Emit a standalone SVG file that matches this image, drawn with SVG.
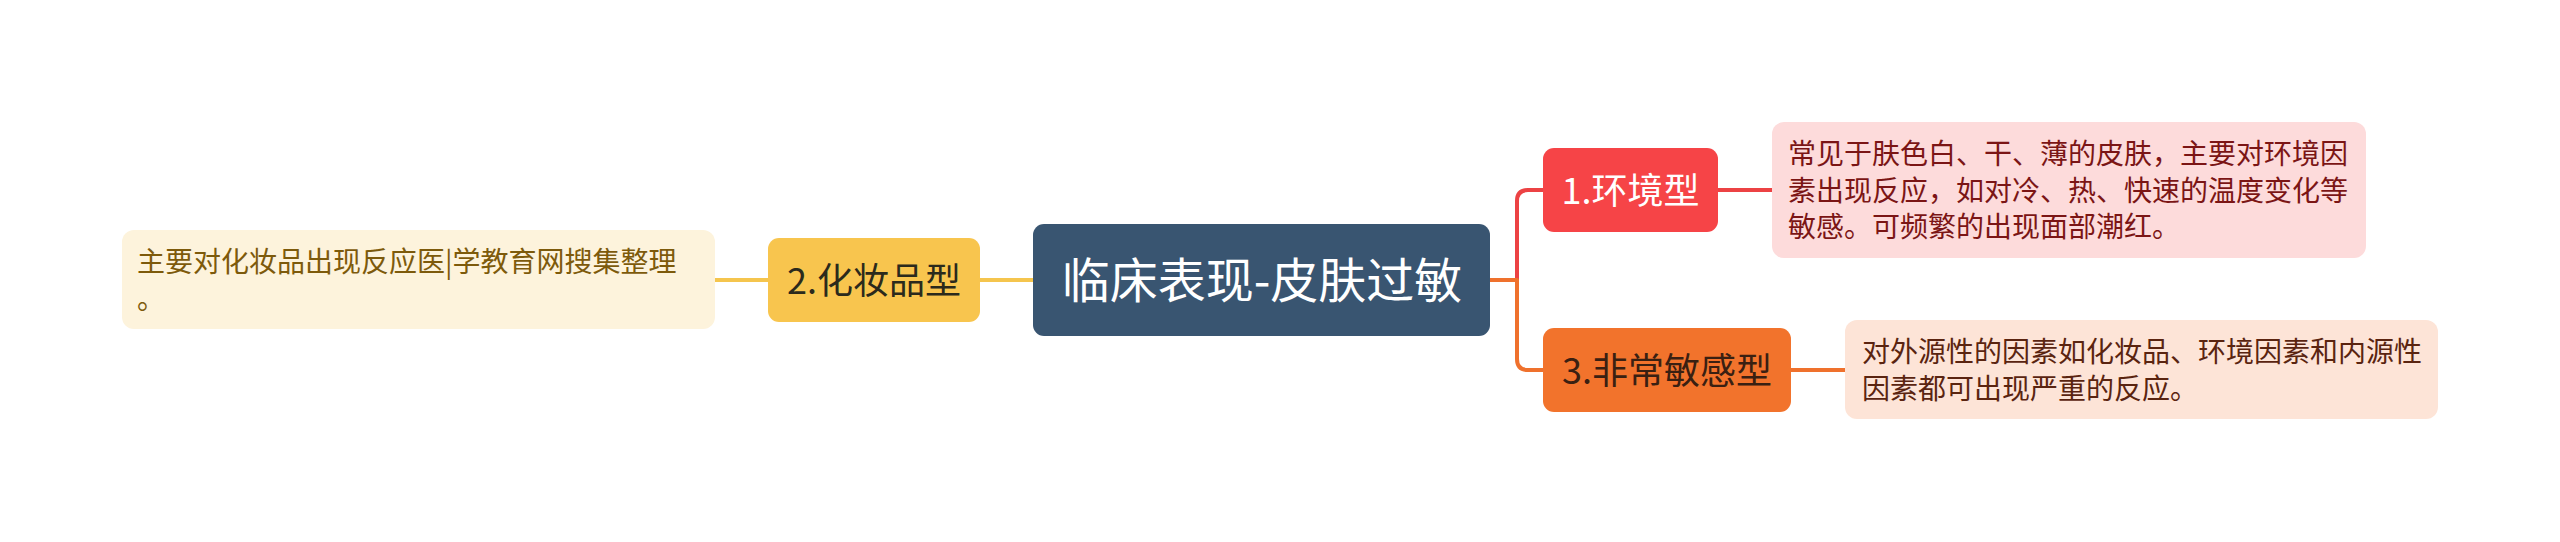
<svg xmlns="http://www.w3.org/2000/svg" width="2560" height="542" viewBox="0 0 2560 542">
<style>
text{font-family:"Noto Sans CJK SC","Noto Sans",sans-serif;}
.conn{fill:none;stroke-width:4;stroke-linecap:round;stroke-linejoin:round;}
.t48{font-size:48px;fill:#ffffff;text-anchor:middle;}
.t36{font-size:36px;text-anchor:middle;}
.t28{font-size:28px;}
</style>
<rect x="0" y="0" width="2560" height="542" fill="#ffffff"/>
<g id="connectors">
  <path class="conn" stroke="#f5c54e" d="M715 280 H768"/>
  <path class="conn" stroke="#f5c54e" d="M980 280 H1033"/>
  <path class="conn" stroke="#ec4244" d="M1517 280 V201 Q1517 190 1528 190 H1543"/>
  <path class="conn" stroke="#ef712d" d="M1490 280 H1517 V359 Q1517 370 1528 370 H1543"/>
  <path class="conn" stroke="#ec4244" d="M1718 190 H1772"/>
  <path class="conn" stroke="#ef712d" d="M1791 370 H1845"/>
</g>
<g id="central">
  <rect x="1033" y="224" width="457" height="112" rx="11" fill="#395571"/>
  <text class="t48" x="1262" y="298">临床表现-皮肤过敏</text>
</g>
<g id="node1">
  <rect x="1543" y="148" width="175" height="84" rx="11" fill="#f64447"/>
  <text class="t36" x="1630.5" y="204" fill="#ffffff">1.环境型</text>
</g>
<g id="node2">
  <rect x="768" y="238" width="212" height="84" rx="11" fill="#f8c54e"/>
  <text class="t36" x="874" y="294" fill="#2b2a1c">2.化妆品型</text>
</g>
<g id="node3">
  <rect x="1543" y="328" width="248" height="84" rx="11" fill="#f2732c"/>
  <text class="t36" x="1667" y="384" fill="#3a2012">3.非常敏感型</text>
</g>
<g id="leaf1">
  <rect x="1772" y="122" width="594" height="136" rx="12" fill="#fddbdb"/>
  <text class="t28" fill="#7b1515">
    <tspan x="1788" y="164">常见于肤色白、干、薄的皮肤，主要对环境因</tspan>
    <tspan x="1788" y="200.5">素出现反应，如对冷、热、快速的温度变化等</tspan>
    <tspan x="1788" y="237">敏感。可频繁的出现面部潮红。</tspan>
  </text>
</g>
<g id="leaf2">
  <rect x="122" y="230" width="593" height="99" rx="12" fill="#fdf3dc"/>
  <text class="t28" fill="#7d5a0b">
    <tspan x="137" y="272">主要对化妆品出现反应医|学教育网搜集整理</tspan>
    <tspan x="137" y="308.5">。</tspan>
  </text>
</g>
<g id="leaf3">
  <rect x="1845" y="320" width="593" height="99" rx="12" fill="#fde4d7"/>
  <text class="t28" fill="#5a2410">
    <tspan x="1862" y="362">对外源性的因素如化妆品、环境因素和内源性</tspan>
    <tspan x="1862" y="398.5">因素都可出现严重的反应。</tspan>
  </text>
</g>
</svg>
